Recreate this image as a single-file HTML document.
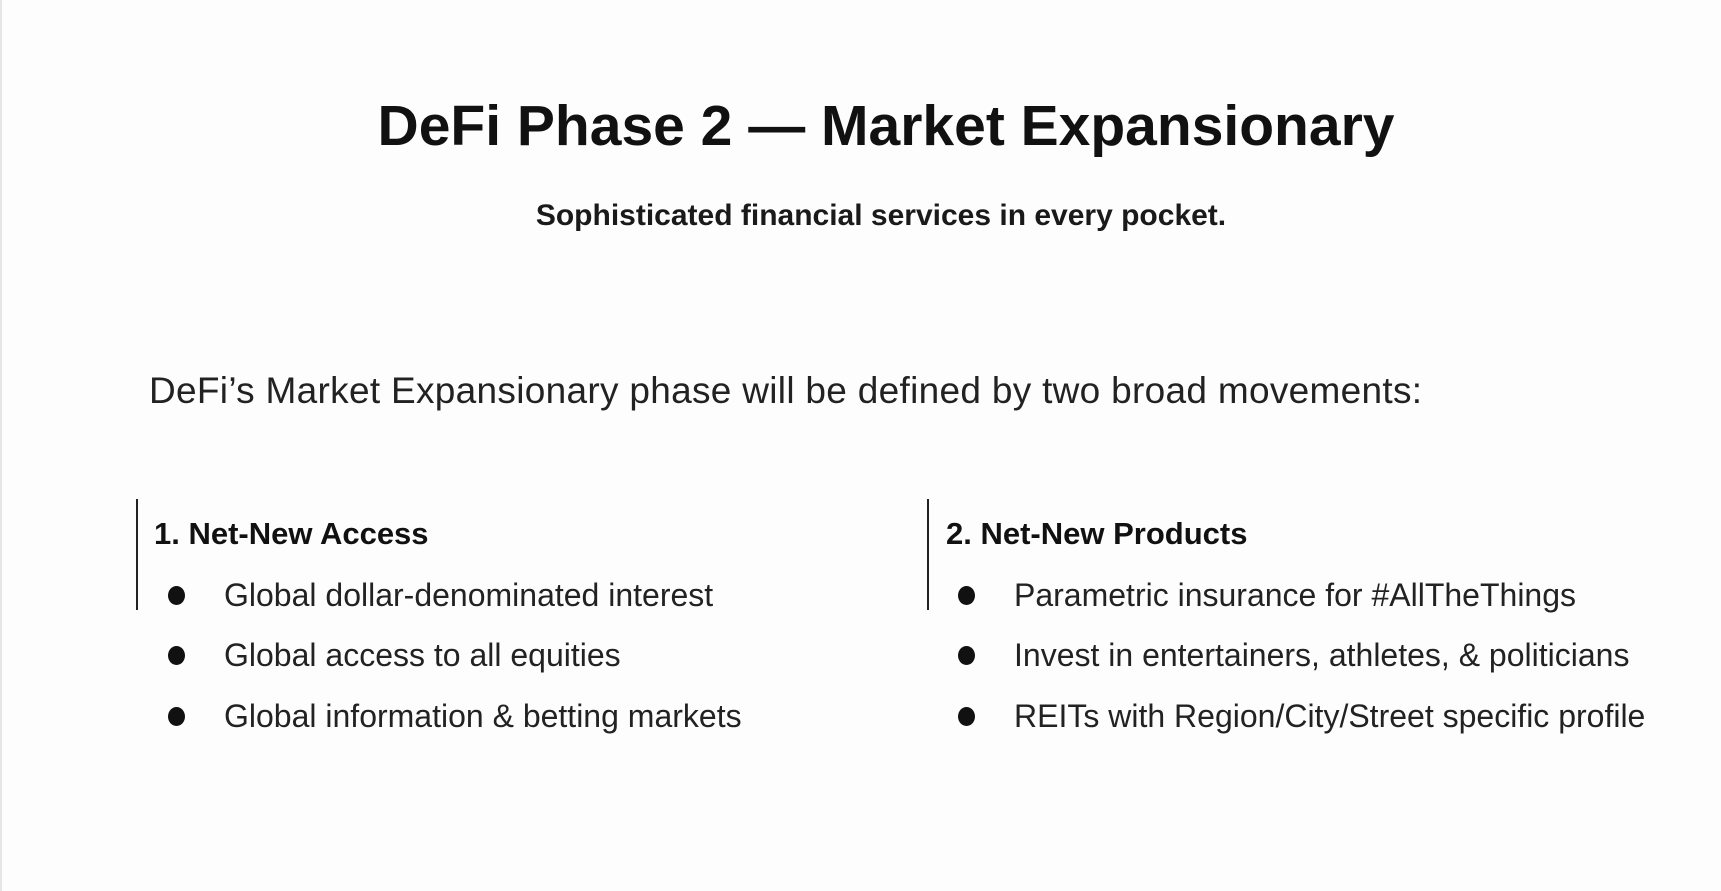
<!DOCTYPE html>
<html><head><meta charset="utf-8"><style>
body{margin:0;width:1721px;height:891px;background:#fdfdfd;position:relative;overflow:hidden;font-family:"Liberation Sans",sans-serif;color:#111}
.a{position:absolute;white-space:nowrap;line-height:1}
.t{font-weight:bold;font-size:57px;left:0;width:1772px;text-align:center;top:98px}
.s{font-size:30px;font-weight:bold;left:0;width:1762px;text-align:center;top:201px;color:#1a1a1a}
.b{font-size:37px;left:149px;top:372px;letter-spacing:0.3px;color:#222}
.h{font-size:31px;font-weight:bold;top:518px}
.i{font-size:32px;color:#222}
.d{position:absolute;width:17px;height:19px;border-radius:50%;background:#111}
.v{position:absolute;width:2px;background:#222;top:499px;height:111px}
</style></head><body>
<div style="position:absolute;left:0;top:0;width:2px;height:891px;background:#e6e6e6"></div>
<div class="a t">DeFi Phase 2 — Market Expansionary</div>
<div class="a s">Sophisticated financial services in every pocket.</div>
<div class="a b">DeFi’s Market Expansionary phase will be defined by two broad movements:</div>
<div class="v" style="left:136px"></div>
<div class="v" style="left:927px"></div>
<div class="a h" style="left:946px">2. Net-New Products</div>
<div class="a h" style="left:154px">1. Net-New Access</div>
<div class="d" style="left:168px;top:586px"></div>
<div class="d" style="left:168px;top:646px"></div>
<div class="d" style="left:168px;top:707px"></div>
<div class="d" style="left:958px;top:586px"></div>
<div class="d" style="left:958px;top:646px"></div>
<div class="d" style="left:958px;top:707px"></div>
<div class="a i" style="left:224px;top:579px">Global dollar-denominated interest</div>
<div class="a i" style="left:224px;top:639px">Global access to all equities</div>
<div class="a i" style="left:224px;top:700px">Global information &amp; betting markets</div>
<div class="a i" style="left:1014px;top:579px">Parametric insurance for #AllTheThings</div>
<div class="a i" style="left:1014px;top:639px">Invest in entertainers, athletes, &amp; politicians</div>
<div class="a i" style="left:1014px;top:700px">REITs with Region/City/Street specific profile</div>
</body></html>
